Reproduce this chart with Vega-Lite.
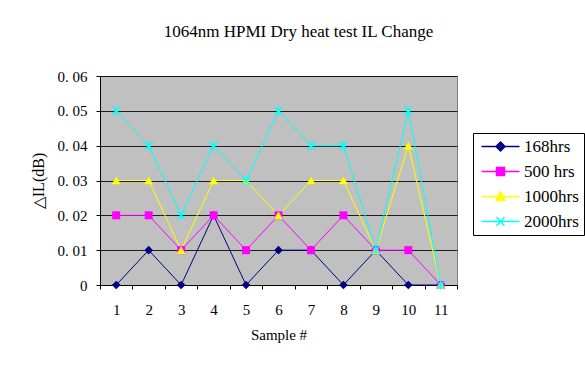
{
  "$schema": "https://vega.github.io/schema/vega-lite/v6.json",
  "autosize": {"type": "none"},
  "width": 357,
  "height": 209,
  "padding": {"left": 100, "top": 76, "right": 128, "bottom": 81},
  "background": "white",
  "title": {
    "text": "1064nm HPMI Dry heat test IL Change",
    "font": "Liberation Serif",
    "fontSize": 17,
    "fontWeight": "normal",
    "color": "black",
    "anchor": "middle",
    "dx": 20,
    "offset": 28
  },
  "data": {
    "values": [
      {"sample": 1, "series": "168hrs", "il": 0},
      {"sample": 2, "series": "168hrs", "il": 0.01},
      {"sample": 3, "series": "168hrs", "il": 0},
      {"sample": 4, "series": "168hrs", "il": 0.02},
      {"sample": 5, "series": "168hrs", "il": 0},
      {"sample": 6, "series": "168hrs", "il": 0.01},
      {"sample": 7, "series": "168hrs", "il": 0.01},
      {"sample": 8, "series": "168hrs", "il": 0},
      {"sample": 9, "series": "168hrs", "il": 0.01},
      {"sample": 10, "series": "168hrs", "il": 0},
      {"sample": 11, "series": "168hrs", "il": 0},
      {"sample": 1, "series": "500 hrs", "il": 0.02},
      {"sample": 2, "series": "500 hrs", "il": 0.02},
      {"sample": 3, "series": "500 hrs", "il": 0.01},
      {"sample": 4, "series": "500 hrs", "il": 0.02},
      {"sample": 5, "series": "500 hrs", "il": 0.01},
      {"sample": 6, "series": "500 hrs", "il": 0.02},
      {"sample": 7, "series": "500 hrs", "il": 0.01},
      {"sample": 8, "series": "500 hrs", "il": 0.02},
      {"sample": 9, "series": "500 hrs", "il": 0.01},
      {"sample": 10, "series": "500 hrs", "il": 0.01},
      {"sample": 11, "series": "500 hrs", "il": 0},
      {"sample": 1, "series": "1000hrs", "il": 0.03},
      {"sample": 2, "series": "1000hrs", "il": 0.03},
      {"sample": 3, "series": "1000hrs", "il": 0.01},
      {"sample": 4, "series": "1000hrs", "il": 0.03},
      {"sample": 5, "series": "1000hrs", "il": 0.03},
      {"sample": 6, "series": "1000hrs", "il": 0.02},
      {"sample": 7, "series": "1000hrs", "il": 0.03},
      {"sample": 8, "series": "1000hrs", "il": 0.03},
      {"sample": 9, "series": "1000hrs", "il": 0.01},
      {"sample": 10, "series": "1000hrs", "il": 0.04},
      {"sample": 11, "series": "1000hrs", "il": 0},
      {"sample": 1, "series": "2000hrs", "il": 0.05},
      {"sample": 2, "series": "2000hrs", "il": 0.04},
      {"sample": 3, "series": "2000hrs", "il": 0.02},
      {"sample": 4, "series": "2000hrs", "il": 0.04},
      {"sample": 5, "series": "2000hrs", "il": 0.03},
      {"sample": 6, "series": "2000hrs", "il": 0.05},
      {"sample": 7, "series": "2000hrs", "il": 0.04},
      {"sample": 8, "series": "2000hrs", "il": 0.04},
      {"sample": 9, "series": "2000hrs", "il": 0.01},
      {"sample": 10, "series": "2000hrs", "il": 0.05},
      {"sample": 11, "series": "2000hrs", "il": 0}
    ]
  },
  "encoding": {
    "x": {
      "field": "sample",
      "type": "ordinal",
      "bandPosition": 0.5,
      "scale": {"type": "band", "paddingInner": 0, "paddingOuter": 0},
      "axis": {
        "title": "Sample #",
        "labelAngle": 0,
        "tickBand": "extent",
        "tickSize": 4,
        "tickColor": "black",
        "domainColor": "black",
        "labelFont": "Liberation Serif",
        "labelFontSize": 15,
        "labelColor": "black",
        "labelPadding": 13,
        "titleFont": "Liberation Serif",
        "titleFontSize": 15,
        "titleFontWeight": "normal",
        "titleColor": "black",
        "titlePadding": 10,
        "encode": {
          "ticks": {"update": {"y2": {"value": -4}}}
        }
      }
    },
    "y": {
      "field": "il",
      "type": "quantitative",
      "scale": {"domain": [0, 0.06], "nice": false},
      "axis": {
        "title": "△IL(dB)",
        "values": [0, 0.01, 0.02, 0.03, 0.04, 0.05, 0.06],
        "labelExpr": "datum.value == 0 ? '0' : replace(format(datum.value, '.2f'), '.', '. ')",
        "grid": true,
        "gridColor": "black",
        "gridOpacity": 0.85,
        "tickSize": 4,
        "tickColor": "black",
        "domainColor": "black",
        "labelFont": "Liberation Serif",
        "labelFontSize": 15,
        "labelColor": "black",
        "labelPadding": 9,
        "titleFont": "Liberation Serif",
        "titleFontSize": 16,
        "titleFontWeight": "normal",
        "titleColor": "black",
        "titlePadding": 11
      }
    }
  },
  "layer": [
    {
      "mark": {"type": "line", "strokeWidth": 1},
      "encoding": {
        "color": {
          "field": "series",
          "type": "nominal",
          "scale": {
            "domain": ["168hrs", "500 hrs", "1000hrs", "2000hrs"],
            "range": ["#000080", "#FF00FF", "#FFFF00", "#00FFFF"]
          },
          "legend": {
            "title": null,
            "orient": "none",
            "legendX": 373,
            "legendY": 57,
            "strokeColor": "black",
            "fillColor": "white",
            "padding": 5,
            "labelFont": "Liberation Serif",
            "labelFontSize": 17,
            "labelColor": "black",
            "labelOffset": 15,
            "rowPadding": 7,
            "symbolSize": 100,
            "symbolOffset": 14,
            "symbolStrokeWidth": 1.5,
            "encode": {
              "symbols": {
                "update": {
                  "shape": {"signal": "datum.value === '168hrs' ? 'M-3.8,0H3.8M0,-0.9L0.9,0L0,0.9L-0.9,0Z' : datum.value === '500 hrs' ? 'M-3.8,0H3.8M-0.8,-0.8H0.8V0.8H-0.8Z' : datum.value === '1000hrs' ? 'M-3.8,0H3.8M0,-0.95L0.9,0.75H-0.9Z' : 'M-3.8,0H3.8M-0.8,-0.85L0.8,0.85M-0.8,0.85L0.8,-0.85'"},
                  "fill": {"scale": "color", "field": "value"},
                  "stroke": {"scale": "color", "field": "value"}
                }
              }
            }
          }
        }
      }
    },
    {
      "transform": [{"filter": "datum.series === '168hrs'"}],
      "mark": {"type": "point", "shape": "diamond", "filled": true, "size": 75, "color": "#000080", "opacity": 1}
    },
    {
      "transform": [{"filter": "datum.series === '500 hrs'"}],
      "mark": {"type": "point", "shape": "square", "filled": true, "size": 64, "color": "#FF00FF", "opacity": 1}
    },
    {
      "transform": [{"filter": "datum.series === '1000hrs'"}],
      "mark": {"type": "point", "shape": "triangle-up", "filled": true, "size": 80, "color": "#FFFF00", "opacity": 1}
    },
    {
      "transform": [{"filter": "datum.series === '2000hrs'"}],
      "mark": {"type": "point", "shape": "M-1,-1L1,1M-1,1L1,-1M0,-1L0,1", "filled": false, "size": 64, "stroke": "#00FFFF", "strokeWidth": 1.3, "opacity": 1}
    }
  ],
  "config": {
    "view": {"fill": "#C0C0C0", "stroke": "#808080", "strokeWidth": 1}
  }
}
